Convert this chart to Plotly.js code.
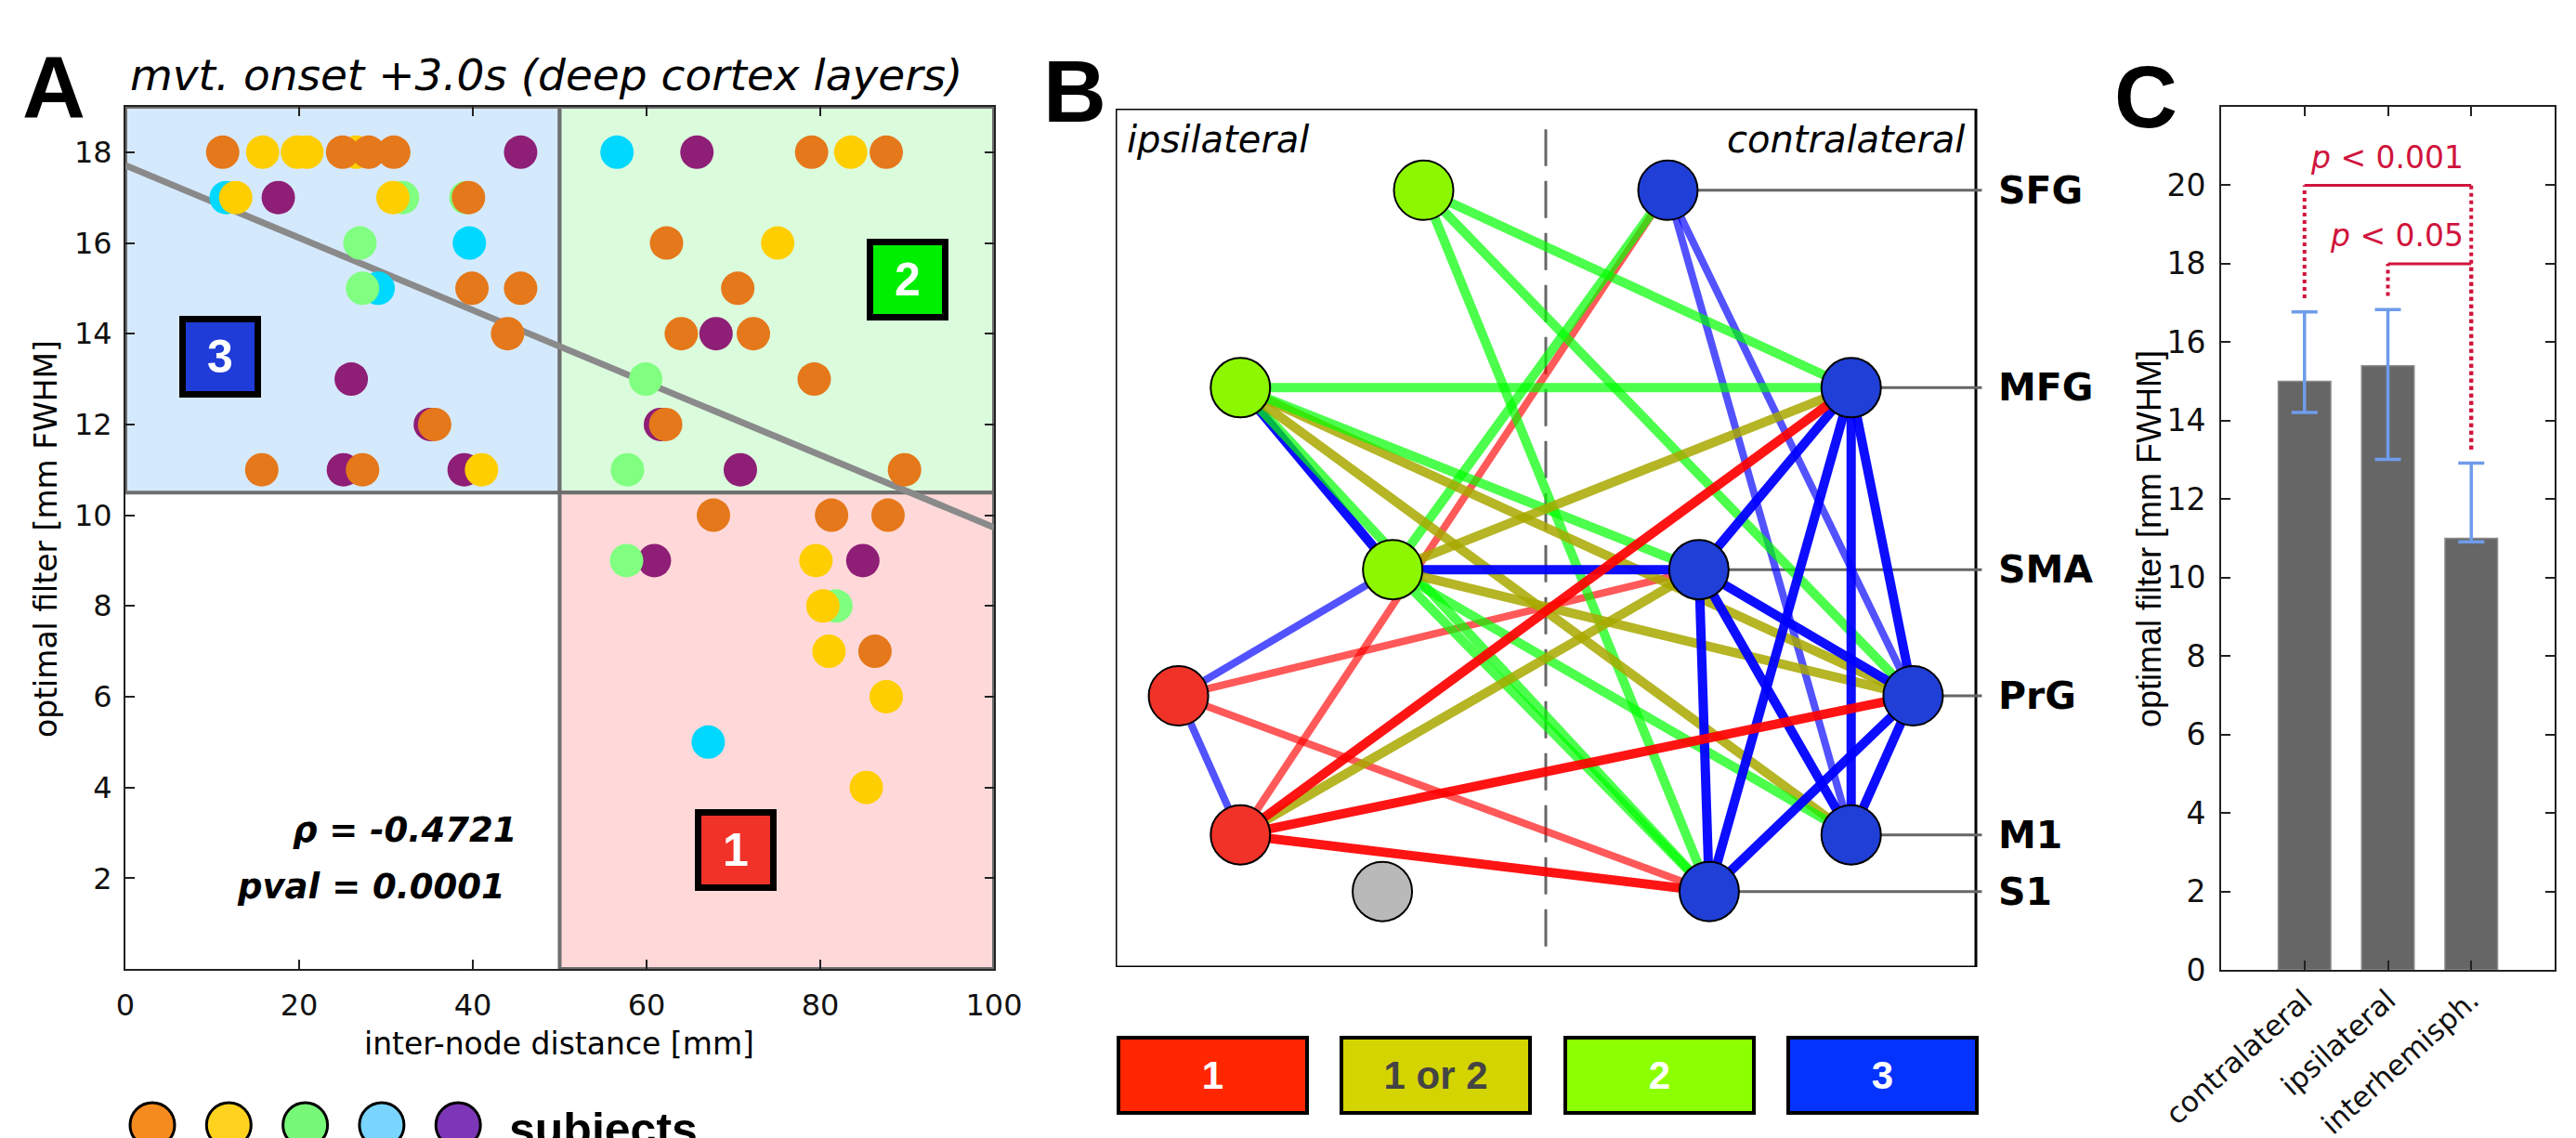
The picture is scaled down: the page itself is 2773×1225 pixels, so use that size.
<!DOCTYPE html>
<html><head><meta charset="utf-8">
<script src="https://cdn.plot.ly/plotly-3.0.1.min.js"></script>
<style>html,body{margin:0;padding:0;background:#fff;}#chart{width:2773px;height:1225px;}</style>
</head><body><div id="chart"></div>
<script>
// ================= Panel A data =================
const subjOrder = ['cyan','purple','green','yellow','orange'];           // drawing order
const subjColor = {orange:'#E5781A', yellow:'#FFCE00', green:'#80FF80', cyan:'#00D8FF', purple:'#8E1E76'};
const legendSubjects = ['orange','yellow','green','cyan','purple'];
const legendColors = ['#F58A1F','#FFD21E','#77F777','#79D5FF','#7E36B8'];

const orangeX = [11.2,25.0,28.0,30.9,39.5,39.9,45.5,44.0,35.6,15.7,27.3,79.0,87.6,62.3,70.5,64.0,72.3,79.3,62.2,89.7,67.7,81.3,87.8,86.3];
const orangeY = [18,18,18,18,17,15,15,14,12,11,11,18,18,16,15,14,14,13,12,11,10,10,10,7];
const yellowX = [15.8,19.8,20.9,26.6,12.7,30.8,41.0,83.5,75.1,79.5,80.3,81.0,87.6,85.3];
const yellowY = [18,18,18,18,17,17,11,18,16,9,8,7,6,4];
const greenX  = [31.9,39.2,27.0,27.3,59.9,57.8,57.7,81.8];
const greenY  = [17,17,16,15,13,11,9,8];
const cyanX   = [11.6,39.6,29.1,56.6,67.1];
const cyanY   = [17,16,15,18,5];
const purpleX = [45.5,17.6,26.0,35.1,25.1,39.0,65.8,68.0,61.6,70.8,60.9,84.9];
const purpleY = [18,17,13,12,11,11,18,14,12,11,9,9];

const fitX = [0, 100];
const fitY = [17.71, 9.73];
const distThreshold = 50;
const filterThreshold = 10.5;
const xRangeA = [0, 100];
const yRangeA = [0, 19];
const xTicksA = [0,20,40,60,80,100];
const yTicksA = [2,4,6,8,10,12,14,16,18];
const rhoLabel = 'ρ = -0.4721';
const pvalLabel = 'pval = 0.0001';

// ================= Panel B data =================
const nodeNames   = ['SFG','MFG','SMA','PrG','M1','S1'];
const nodeRowY    = [90.5, 67.5, 46.3, 31.6, 15.4, 8.8];
const nodeOffset  = [14.2, 35.5, 17.8, 42.7, 35.5, 19.0];
const ipsiClass   = ['2','2','2','1','1','none'];
const contraClass = ['3','3','3','3','3','3'];

const edgeFrom  = ['iSFG','iSFG','iSFG','cSFG','cSFG','cSFG','cSFG','iMFG','iMFG','iMFG','iMFG','iMFG','iMFG','iSMA','iSMA','iSMA','iSMA','iSMA','iSMA','cSMA','cSMA','cSMA','cSMA','cSMA','cSMA','cMFG','cMFG','cMFG','cMFG','iPrG','iPrG','iM1','iM1','cPrG','cPrG'];
const edgeTo    = ['cMFG','cPrG','cS1','iSMA','iM1','cPrG','cM1','cMFG','iSMA','cS1','cPrG','cM1','cSMA','cSMA','cMFG','cPrG','cM1','cS1','iPrG','iPrG','iM1','cMFG','cPrG','cS1','cM1','iM1','cS1','cM1','cPrG','iM1','cS1','cPrG','cS1','cS1','cM1'];
const edgeClass = ['2','2','2','2','1','3','3','2','3','2','1or2','1or2','2','3','1or2','1or2','2','2','3','1','1or2','3','3','3','3','1','3','3','3','3','1','1','1','3','3'];
const edgeStrong= [1,1,1,1,0,0,0,1,1,1,1,1,1,1,1,1,1,1,0,0,1,1,1,1,1,1,1,1,1,0,0,1,1,1,1];

const clusterLabels = ['1','1 or 2','2','3'];

// ================= Panel C data =================
const cCats = ['contralateral','ipsilateral','interhemisph.'];
const cMeans = [15.0, 15.4, 11.0];
const cErrPlus = [1.77, 1.43, 1.92];
const cErrMinus = [0.79, 2.39, 0.09];
const sigPairs = [[0,2],[1,2]];
const sigLevel = [20, 18];
const sigText = ['<i>p</i> &lt; 0.001', '<i>p</i> &lt; 0.05'];
const yTicksC = [0,2,4,6,8,10,12,14,16,18,20];

// ================= build =================
const W = 2773, H = 1225;
const PX = p => p / W, PY = p => 1 - p / H;
const traces = [];
const shapes = [];
const ann = [];

// ---- Panel A ----
const subjData = {orange:[orangeX,orangeY], yellow:[yellowX,yellowY], green:[greenX,greenY], cyan:[cyanX,cyanY], purple:[purpleX,purpleY]};
shapes.push({type:'rect', xref:'x', yref:'y', x0:xRangeA[0], x1:distThreshold, y0:filterThreshold, y1:yRangeA[1], fillcolor:'#D5E9FC', line:{color:'#6E6E6E', width:4}, layer:'below'});
shapes.push({type:'rect', xref:'x', yref:'y', x0:distThreshold, x1:xRangeA[1], y0:filterThreshold, y1:yRangeA[1], fillcolor:'#DBFBDD', line:{color:'#6E6E6E', width:4}, layer:'below'});
shapes.push({type:'rect', xref:'x', yref:'y', x0:distThreshold, x1:xRangeA[1], y0:yRangeA[0], y1:filterThreshold, fillcolor:'#FFD9D9', line:{color:'#6E6E6E', width:4}, layer:'below'});

traces.push({type:'scatter', mode:'lines', x:fitX, y:fitY, xaxis:'x', yaxis:'y', line:{color:'#8A8A8A', width:7}, hoverinfo:'skip'});
subjOrder.forEach(s => {
  traces.push({type:'scatter', mode:'markers', x:subjData[s][0], y:subjData[s][1], xaxis:'x', yaxis:'y',
    marker:{size:36, color:subjColor[s], line:{width:0}}, name:s});
});

// cluster boxes in A
const boxA = [{t:'3', x:10.9, y:13.5, c:'#1F3CD8'}, {t:'2', x:90.0, y:15.2, c:'#00EE00'}, {t:'1', x:70.3, y:2.63, c:'#F03228'}];
boxA.forEach(b => ann.push({xref:'x', yref:'y', x:b.x, y:b.y, text:'<b>'+b.t+'</b>', showarrow:false,
  font:{family:'Arial', size:50, color:'#fff'}, bgcolor:b.c, bordercolor:'#000', borderwidth:7, borderpad:2, width:70, height:70, align:'center', valign:'middle'}));

ann.push({xref:'x', yref:'y', x:45.2, y:3.06, xanchor:'right', yanchor:'middle', showarrow:false, text:'<b><i>'+rhoLabel+'</i></b>', font:{family:'DejaVu Sans', size:37, color:'#000'}});
ann.push({xref:'x', yref:'y', x:44.0, y:1.82, xanchor:'right', yanchor:'middle', showarrow:false, text:'<b><i>'+pvalLabel+'</i></b>', font:{family:'DejaVu Sans', size:37, color:'#000'}});

ann.push({xref:'paper', yref:'paper', x:PX(588), y:PY(80), xanchor:'center', yanchor:'middle', showarrow:false, text:'<i>mvt. onset +3.0s (deep cortex layers)</i>', font:{family:'DejaVu Sans', size:47, color:'#000'}});
ann.push({xref:'paper', yref:'paper', x:PX(602), y:PY(1123), xanchor:'center', yanchor:'middle', showarrow:false, text:'inter-node distance [mm]', font:{family:'DejaVu Sans', size:33, color:'#000'}});
ann.push({xref:'paper', yref:'paper', x:PX(49), y:PY(580), xanchor:'center', yanchor:'middle', textangle:-90, showarrow:false, text:'optimal filter [mm FWHM]', font:{family:'DejaVu Sans', size:33, color:'#000'}});

// subjects legend
traces.push({type:'scatter', mode:'markers', xaxis:'x4', yaxis:'y4', cliponaxis:false,
  x: legendColors.map((c,i) => 164 + i*82.3), y: legendColors.map(() => 1211),
  marker:{size:48, color:legendColors, line:{color:'#000', width:3}}, hoverinfo:'skip'});
ann.push({xref:'paper', yref:'paper', x:PX(546), y:PY(1216), xanchor:'left', yanchor:'middle', showarrow:false, text:'<b>subjects</b>', font:{family:'Arial', size:50, color:'#000'}});

// panel letters
[['A',58,94],['B',1157,99],['C',2310,104]].forEach(l => ann.push({xref:'paper', yref:'paper', x:PX(l[1]), y:PY(l[2]), xanchor:'center', yanchor:'middle', showarrow:false, text:'<b>'+l[0]+'</b>', font:{family:'Arial', size:94, color:'#000'}}));

// ---- Panel B ----
const mid = 50;
const bDomY = [PY(1041), PY(117)];
const nodeColor = {'1':'#F03228','2':'#8CF700','3':'#1F3FD6','none':'#B9B9B9'};
const edgeColor = {'1':[255,0,0], '1or2':[168,168,0], '2':[0,255,0], '3':[0,0,255]};
const edgeAlpha = {'1':[0.65,0.92], '1or2':[0.85,0.85], '2':[0.7,0.7], '3':[0.68,0.95]};
const nodePos = {};
nodeNames.forEach((n,i) => {
  nodePos['i'+n] = [mid - nodeOffset[i], nodeRowY[i]];
  nodePos['c'+n] = [mid + nodeOffset[i], nodeRowY[i]];
});
shapes.push({type:'rect', xref:'x2', yref:'y2', x0:0, x1:100, y0:0, y1:100, line:{color:'#000', width:3}, fillcolor:'rgba(0,0,0,0)', layer:'below'});
shapes.push({type:'line', xref:'x2', yref:'y2', x0:mid, x1:mid, y0:2.4, y1:97.6, line:{color:'#666', width:3, dash:'40px,16px'}, layer:'below'});

// connectors to labels
nodeNames.forEach((n,i) => {
  traces.push({type:'scatter', mode:'lines', xaxis:'x2', yaxis:'y2', x:[nodePos['c'+n][0], 100.7], y:[nodeRowY[i], nodeRowY[i]], line:{color:'#666', width:3}, hoverinfo:'skip'});
  ann.push({xref:'paper', yref:'paper', x:PX(2149), y:bDomY[0] + (nodeRowY[i]/100)*(bDomY[1]-bDomY[0]), xanchor:'left', yanchor:'middle', showarrow:false, text:'<b>'+n+'</b>', font:{family:'DejaVu Sans', size:41, color:'#000'}});
});
// edges (weak first)
const edgeIdx = edgeFrom.map((e,i) => i).sort((a,b) => edgeStrong[a] - edgeStrong[b]);
edgeIdx.forEach(i => {
  const a = nodePos[edgeFrom[i]], b = nodePos[edgeTo[i]];
  const c = edgeColor[edgeClass[i]], al = edgeAlpha[edgeClass[i]][edgeStrong[i]];
  traces.push({type:'scatter', mode:'lines', xaxis:'x2', yaxis:'y2', x:[a[0], b[0]], y:[a[1], b[1]],
    line:{color:`rgba(${c[0]},${c[1]},${c[2]},${al})`, width: edgeStrong[i] ? 10 : 8}, hoverinfo:'skip'});
});
// nodes
const nx = [], ny = [], nc = [];
nodeNames.forEach((n,i) => {
  nx.push(nodePos['i'+n][0]); ny.push(nodeRowY[i]); nc.push(nodeColor[ipsiClass[i]]);
  nx.push(nodePos['c'+n][0]); ny.push(nodeRowY[i]); nc.push(nodeColor[contraClass[i]]);
});
traces.push({type:'scatter', mode:'markers', xaxis:'x2', yaxis:'y2', x:nx, y:ny, cliponaxis:false, marker:{size:64, color:nc, line:{color:'#000', width:2}}, hoverinfo:'skip'});

ann.push({xref:'paper', yref:'paper', x:PX(1211), y:PY(150), xanchor:'left', yanchor:'middle', showarrow:false, text:'<i>ipsilateral</i>', font:{family:'DejaVu Sans', size:40, color:'#000'}});
ann.push({xref:'paper', yref:'paper', x:PX(2117), y:PY(150), xanchor:'right', yanchor:'middle', showarrow:false, text:'<i>contralateral</i>', font:{family:'DejaVu Sans', size:40, color:'#000'}});

// cluster legend boxes
const legBoxColor = ['#FF2600','#D4D400','#8CFF00','#0433FF'];
const legTextColor = ['#fff','#444','#fff','#fff'];
clusterLabels.forEach((t,i) => ann.push({xref:'paper', yref:'paper', x:PX(1305.5 + i*240.3), y:PY(1157), xanchor:'center', yanchor:'middle', showarrow:false,
  text:'<b>'+t+'</b>', font:{family:'Arial', size:42, color:legTextColor[i]}, bgcolor:legBoxColor[i], bordercolor:'#000', borderwidth:4, borderpad:0, width:199, height:77, align:'center', valign:'middle'}));

// ---- Panel C ----
traces.push({type:'bar', x:[1,2,3], y:cMeans, xaxis:'x3', yaxis:'y3', width:0.63,
  marker:{color:'#666666', line:{color:'#8a8a8a', width:1.5}},
  error_y:{type:'data', symmetric:false, array:cErrPlus, arrayminus:cErrMinus, color:'#6F9CEB', thickness:3.5, width:14}, hoverinfo:'skip'});
const sigColor = '#D0143C';
sigPairs.forEach((p,k) => {
  const lv = sigLevel[k];
  p.forEach(j => {
    const top = cMeans[j] + cErrPlus[j] + 0.35;
    shapes.push({type:'line', xref:'x3', yref:'y3', x0:j+1, x1:j+1, y0:top, y1:lv, line:{color:sigColor, width:4, dash:'dot'}});
  });
  shapes.push({type:'line', xref:'x3', yref:'y3', x0:p[0]+1, x1:p[1]+1, y0:lv, y1:lv, line:{color:sigColor, width:3}});
  ann.push({xref:'x3', yref:'y3', x:p[1]+1, xshift:-6, y:lv+0.72, xanchor:'right', yanchor:'middle', showarrow:false, text:sigText[k], font:{family:'DejaVu Sans', size:33, color:sigColor}});
});
ann.push({xref:'paper', yref:'paper', x:PX(2313), y:PY(580), xanchor:'center', yanchor:'middle', textangle:-90, showarrow:false, text:'optimal filter [mm FWHM]', font:{family:'Liberation Sans Narrow, Arial Narrow, Arial', size:36, color:'#000'}});

const axCommon = {ticks:'inside', ticklen:10, tickwidth:2, tickcolor:'#222', showline:true, linecolor:'#222', linewidth:2, mirror:'allticks', showgrid:false, zeroline:false, fixedrange:true};
const layout = {
  width:W, height:H, margin:{l:0,r:0,t:0,b:0}, paper_bgcolor:'#fff', plot_bgcolor:'rgba(0,0,0,0)', showlegend:false,
  xaxis: Object.assign({}, axCommon, {domain:[PX(135),PX(1070)], range:xRangeA, tickvals:xTicksA, anchor:'y', ticklabelstandoff:10, tickfont:{family:'DejaVu Sans', size:32, color:'#111'}}),
  yaxis: Object.assign({}, axCommon, {domain:[PY(1043),PY(115)], range:yRangeA, tickvals:yTicksA, anchor:'x', ticklabelstandoff:6, tickfont:{family:'DejaVu Sans', size:32, color:'#111'}}),
  xaxis2: {domain:[PX(1201),PX(1201+926*1.016)], range:[0,101.6], visible:false, anchor:'y2', fixedrange:true},
  yaxis2: {domain:bDomY, range:[0,100], visible:false, anchor:'x2', fixedrange:true},
  xaxis3: Object.assign({}, axCommon, {domain:[PX(2391),PX(2750)], range:[0,4], tickvals:[1,2,3], ticktext:cCats, tickangle:-42, anchor:'y3', tickfont:{family:'DejaVu Sans', size:31, color:'#111'}}),
  yaxis3: Object.assign({}, axCommon, {domain:[PY(1044),PY(115)], range:[0,22], tickvals:yTicksC, anchor:'x3', ticklabelstandoff:8, tickfont:{family:'DejaVu Sans', size:33, color:'#111'}}),
  xaxis4: {domain:[0,1], range:[0,W], visible:false, anchor:'y4', fixedrange:true},
  yaxis4: {domain:[0,1], range:[H,0], visible:false, anchor:'x4', fixedrange:true},
  shapes: shapes, annotations: ann
};
Plotly.newPlot('chart', traces, layout, {staticPlot:true});
</script></body></html>
